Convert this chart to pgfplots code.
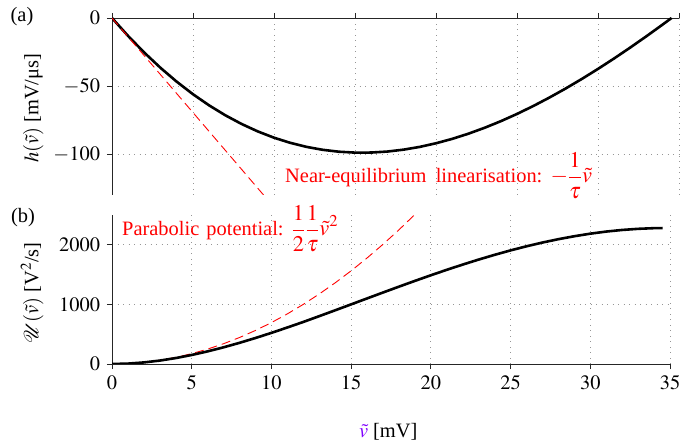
\documentclass[border=0pt]{standalone}
\usepackage{mathptmx}
\usepackage{fontspec}
\setmainfont{Liberation Serif}
\usepackage{pgfplots}
\usepackage{pgfplotstable}
\pgfplotsset{compat=1.18}
\definecolor{vviolet}{RGB}{128,0,255}
\definecolor{gridgray}{RGB}{150,150,150}

% h(v) in mV/us
\pgfplotstableread{
v h
0 0
1 -13.28
2 -25.49
3 -36.67
4 -46.83
5 -56.01
6 -64.21
7 -71.49
8 -77.84
9 -83.31
10 -87.92
11 -91.68
12 -94.64
13 -96.80
14 -98.21
15 -98.87
16 -98.82
17 -98.09
18 -96.69
19 -94.66
20 -92.01
21 -88.78
22 -84.98
23 -80.64
24 -75.80
25 -70.47
26 -64.68
27 -58.44
28 -51.81
29 -44.78
30 -37.39
31 -29.67
32 -21.63
33 -13.31
34 -4.73
34.54 0
}\hdata

% potential U(v) in V^2/s
\pgfplotstableread{
v U
0 0
1 6.75
2 26.30
3 57.60
4 99.61
5 151.33
6 211.80
7 280.05
8 355.16
9 436.24
10 522.40
11 612.79
12 705.59
13 802.99
14 901.23
15 1000.56
16 1100.23
17 1199.56
18 1297.87
19 1394.53
20 1488.88
21 1580.34
22 1668.31
23 1752.26
24 1831.71
25 1906.13
26 1975.03
27 2037.94
28 2094.35
29 2143.80
30 2186.78
31 2221.99
32 2249.16
33 2267.99
34 2279.14
34.54 2281.1
}\Udata

% parabolic approximation
\pgfplotstableread{
v U
0 0
1 6.95
2 27.8
3 62.55
4 111.2
5 173.75
6 250.2
7 340.55
8 444.8
9 562.95
10 695
11 840.95
12 1000.8
13 1174.55
14 1362.2
15 1563.75
16 1779.2
17 2008.55
18 2251.8
19 2509
}\Pdata

\pgfplotsset{
  panel/.style={
    scale only axis, anchor=south west,
    xmin=0, xmax=35, xtick={0,5,...,35},
    grid=major,
    major grid style={gridgray, dash pattern=on 0.9bp off 4.6bp, line width=0.8bp},
    axis line style={black!85, line width=0.8bp},
    tick style={black!85, line width=0.8bp},
    tick align=outside, major tick length=5bp,
    axis y line*=left,
    font=\fontsize{20.5}{24}\selectfont,
    /pgf/number format/1000 sep={},
  },
  curve/.style={black, line width=2.6bp},
  approx/.style={red, line width=0.9bp, dash pattern=on 9bp off 5bp},
}
\newcommand{\bigmath}[1]{{\fontsize{22.5}{26}\selectfont$\displaystyle #1$}}

\begin{document}
\fontsize{20.5}{24}\selectfont
\begin{tikzpicture}
\path[use as bounding box] (0bp,0bp) rectangle (696bp,445bp);

\begin{axis}[panel, at={(112bp,250bp)}, width=567bp, height=177bp,
  ymin=-130, ymax=0, ytick={-100,-50,0},
  axis x line*=top, xticklabels={},
  ylabel={$h(\tilde{v})$ [mV/μs]},
  ylabel style={at={(axis description cs:-0.139,0.49)}, anchor=center}]
\addplot[curve] table[x=v,y=h] {\hdata};
\addplot[approx] coordinates {(0,0) (9.5,-132)};
\end{axis}

\begin{axis}[panel, at={(112bp,81bp)}, width=558bp, height=149bp,
  ymin=0, ymax=2500, ytick={0,1000,2000},
  axis x line*=bottom,
  xlabel={\textcolor{vviolet}{$\tilde{v}$} [mV]},
  xlabel style={at={(axis description cs:0.495,-0.456)}, anchor=center},
  ylabel={$\mathcal{U}(\tilde{v})$ [V$^2$/s]},
  ylabel style={at={(axis description cs:-0.143,0.476)}, anchor=center}]
\addplot[approx] table[x=v,y=U] {\Pdata};
\addplot[curve] table[x=v,y=U] {\Udata};
\end{axis}

\node[anchor=center] at (22bp,428bp) {(a)};
\node[anchor=center] at (23bp,227bp) {(b)};
\node[red, anchor=base west, inner sep=0pt] at (285bp,262bp)
  {Near-equilibrium\hspace{0.45em}linearisation:\hspace{0.4em}\bigmath{-\frac{1}{\tau}\tilde{v}}};
\node[red, anchor=base west, inner sep=0pt] at (122bp,209bp)
  {Parabolic\hspace{0.35em}potential:\hspace{0.4em}\bigmath{\frac{1}{2}\frac{1}{\tau}\tilde{v}^2}};
\end{tikzpicture}
\end{document}
